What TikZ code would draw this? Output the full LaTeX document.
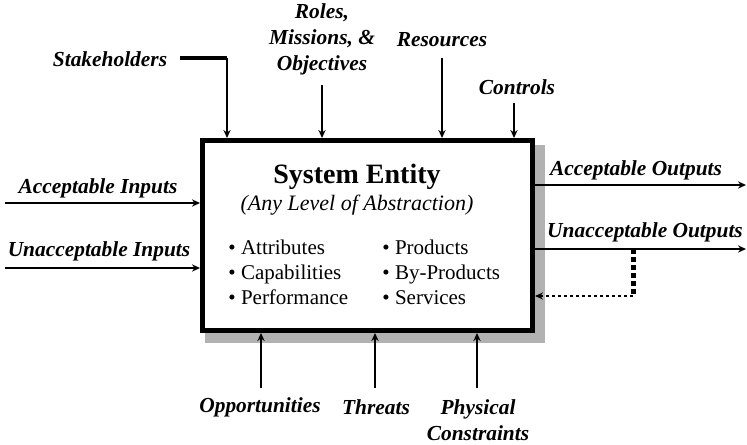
\documentclass[tikz,border=0pt]{standalone}
\usepackage{fontspec}
\setmainfont{Liberation Serif}
\usetikzlibrary{arrows.meta,backgrounds}

\begin{document}
\begin{tikzpicture}[x=0.5pt,y=-0.5pt,
	lbl/.style={font=\fontsize{10.7}{13}\selectfont\bfseries\itshape, align=center, inner sep=0pt},
	items/.style={font=\fontsize{10.5}{12.5}\selectfont, anchor=west, align=left, inner sep=0pt},
	flow/.style={line width=0.8pt, -{Stealth[length=4pt,width=3.6pt]}}]
	
	\useasboundingbox (0,0) rectangle (747,444);
	
	% System entity box
	\node [draw,
	line width=2.5pt,
	fill=white,
	minimum width=165pt,
	minimum height=95pt] (box) at (367.5,235.5){};
	
	% Shadow
	\begin{scope}[on background layer]
		\fill[black!30] ([xshift=2.5pt,yshift=-3.5pt]box.north west) rectangle ([xshift=5pt,yshift=-5pt]box.south east);
	\end{scope}
	
	\node[font=\fontsize{14}{16}\selectfont\bfseries] (title) at (357,177) {System Entity};
	\node[font=\fontsize{11}{13}\selectfont\itshape] (sub) at (357,205) {(Any Level of Abstraction)};
	\node[items] (attr) at (228,272) {• Attributes\\• Capabilities\\• Performance};
	\node[items] (prod) at (382,272) {• Products\\• By-Products\\• Services};
	
	% Labels
	\node[lbl] (stake) at (110,59) {Stakeholders};
	\node[lbl] (roles) at (322,39) {Roles,\\Missions, \&\\Objectives};
	\node[lbl] (res) at (442,40) {Resources};
	\node[lbl] (ctrl) at (517,87) {Controls};
	\node[lbl] (ain) at (98,188) {Acceptable Inputs};
	\node[lbl] (uin) at (99,251) {Unacceptable Inputs};
	\node[lbl] (aout) at (636,170) {Acceptable Outputs};
	\node[lbl] (uout) at (645,232) {Unacceptable Outputs};
	\node[lbl] (opp) at (260,407) {Opportunities};
	\node[lbl] (thr) at (376,407) {Threats};
	\node[lbl] (phys) at (478,420) {Physical\\Constraints};
	
	% Free ends of the connectors
	\coordinate (skA) at (180,58);
	\coordinate (skB) at (227,58);
	\coordinate (rolesA) at (322,85);
	\coordinate (resA) at (442,58);
	\coordinate (ctrlA) at (514,103);
	\coordinate (ainA) at (5,203);
	\coordinate (uinA) at (5,268);
	\coordinate (aoutB) at (746,185);
	\coordinate (uoutB) at (746,249);
	\coordinate (fbA) at (633,249);
	\coordinate (fbB) at (633,296);
	\coordinate (oppA) at (261,388);
	\coordinate (thrA) at (375,388);
	\coordinate (physA) at (477,388);
	
	% Connectors
	\draw[line width=2pt] (skA) -- (skB);
	\draw[flow] (skB) -- (skB |- box.north);
	\foreach \c in {rolesA,resA,ctrlA}
		\draw[flow] (\c) -- (\c |- box.north);
	\foreach \c in {oppA,thrA,physA}
		\draw[flow] (\c) -- (\c |- box.south);
	\foreach \c in {ainA,uinA}
		\draw[flow] (\c) -- (\c -| box.west);
	\draw[flow] (box.east |- aoutB) -- (aoutB);
	\draw[flow] (box.east |- uoutB) -- (uoutB);
	
	% Feedback
	\draw[line width=2.5pt, dash pattern=on 2.5pt off 1.5pt] (fbA) -- (fbB);
	\draw[line width=1pt, dash pattern=on 1.5pt off 1.5pt, -{Stealth[length=4pt,width=3.6pt]}] (fbB) -- (fbB -| box.east);
	
\end{tikzpicture}
\end{document}
